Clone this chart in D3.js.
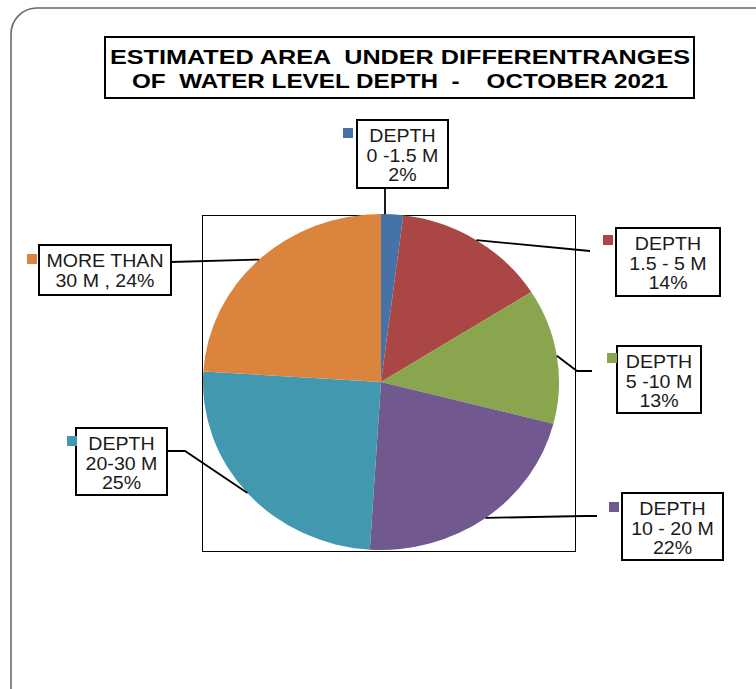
<!DOCTYPE html>
<html>
<head>
<meta charset="utf-8">
<script src="https://cdn.jsdelivr.net/npm/d3@7"></script>
<style>
  html, body { margin: 0; padding: 0; background: #fff; }
  svg { display: block; }
  text { font-family: "Liberation Sans", Arial, sans-serif; }
</style>
</head>
<body>
<svg id="chart" width="756" height="689"></svg>
<script>
// Depth ranges and share of area (%)
const categories = ["0 -1.5 M", "1.5 - 5 M", "5 -10 M", "10 - 20 M", "20-30 M", "MORE THAN 30 M"];
const values = [2, 14, 13, 22, 25, 24];
const colors = ["#4572A7", "#AA4643", "#89A54E", "#71588F", "#4198AF", "#DB843D"];
const titleLines = ["ESTIMATED AREA  UNDER DIFFERENTRANGES", "OF  WATER LEVEL DEPTH  -    OCTOBER 2021"];

function labelLines(i) {
  if (i === 5) return ["MORE THAN", "30 M , " + values[i] + "%"];
  return ["DEPTH", categories[i], values[i] + "%"];
}

const svg = d3.select("#chart");

// outer chart frame
svg.append("rect")
  .attr("x", 11).attr("y", 8).attr("width", 790).attr("height", 720)
  .attr("rx", 26).attr("ry", 26)
  .attr("fill", "#fff").attr("stroke", "#6a6a6a").attr("stroke-width", 1.6);

// title box
svg.append("rect")
  .attr("x", 105).attr("y", 37).attr("width", 589).attr("height", 61)
  .attr("fill", "#fff").attr("stroke", "#000").attr("stroke-width", 2);
const titleW = [580, 536];
titleLines.forEach((t, k) => {
  svg.append("text")
    .attr("x", 400).attr("y", 64 + k * 23.5)
    .attr("text-anchor", "middle")
    .attr("font-size", 20).attr("font-weight", "bold")
    .attr("textLength", titleW[k]).attr("lengthAdjust", "spacingAndGlyphs")
    .style("white-space", "pre")
    .text(t);
});

// plot area frame
svg.append("rect")
  .attr("x", 202.5).attr("y", 215.5).attr("width", 373).attr("height", 336)
  .attr("fill", "none").attr("stroke", "#000").attr("stroke-width", 1);

// pie (drawn slightly flattened vertically)
const cx = 381, cy = 382, rx = 178, ry = 168;
const pie = d3.pie().sort(null).value(d => d)(values);
const arc = d3.arc().innerRadius(0).outerRadius(rx);
const g = svg.append("g")
  .attr("transform", `translate(${cx},${cy}) scale(1,${ry / rx})`);
g.selectAll("path").data(pie).join("path")
  .attr("d", arc)
  .attr("fill", (d, i) => colors[i]);

function edgePoint(d) {
  const a = (d.startAngle + d.endAngle) / 2;
  return [cx + rx * Math.sin(a), cy - ry * Math.cos(a)];
}

// label boxes: position, size and the path of the leader line toward the box
const boxes = [
  { x: 357, y: 120, w: 91, h: 68, key: [343, 128], lead: p => [[385, p[1]], [385, 188]] },
  { x: 616, y: 228, w: 104, h: 68, key: [603, 235], lead: p => [p, [590, 251]] },
  { x: 617, y: 346, w: 84, h: 67, key: [607, 353], lead: p => [p, [577, 371], [592, 371]] },
  { x: 622, y: 493, w: 101, h: 67, key: [609, 502], lead: p => [p, [585, 516], [597, 516]] },
  { x: 76, y: 428, w: 91, h: 67, key: [67, 436], lead: p => [p, [185, 451], [167, 451]] },
  { x: 39, y: 245, w: 132, h: 50, key: [27, 254], lead: p => [p, [171, 262]] }
];

const line = d3.line();
pie.forEach((d, i) => {
  const b = boxes[i];
  const pts = b.lead(edgePoint(d));
  svg.append("path")
    .attr("d", line(pts))
    .attr("fill", "none").attr("stroke", "#000").attr("stroke-width", 1.8);
});

pie.forEach((d, i) => {
  const b = boxes[i];
  svg.append("rect")
    .attr("x", b.x).attr("y", b.y).attr("width", b.w).attr("height", b.h)
    .attr("fill", "#fff").attr("stroke", "#000").attr("stroke-width", 2);
  svg.append("rect")
    .attr("x", b.key[0]).attr("y", b.key[1]).attr("width", 10).attr("height", 10)
    .attr("fill", colors[i]);
  const lines = labelLines(i);
  lines.forEach((t, k) => {
    svg.append("text")
      .attr("transform", `translate(${b.x + b.w / 2},${b.y + 22 + k * 19.5}) scale(1.12,1)`)
      .attr("text-anchor", "middle")
      .attr("font-size", 17.5).attr("fill", "#1a1a1a")
      .style("white-space", "pre")
      .text(t);
  });
});
</script>
</body>
</html>
